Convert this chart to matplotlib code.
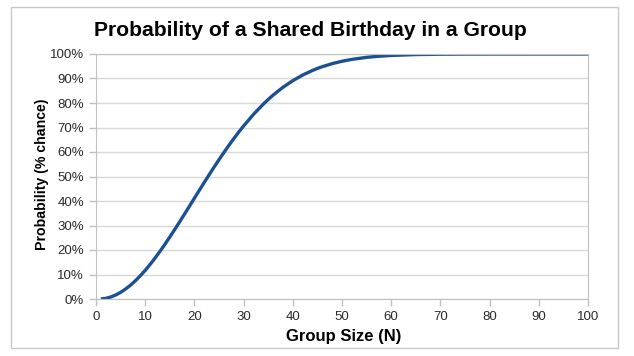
import matplotlib.pyplot as plt
from matplotlib.patches import Rectangle
from matplotlib.ticker import FuncFormatter

# group size N and chance of a shared birthday (%)
group_size = [1, 2, 3, 4, 5, 6, 7, 8, 9, 10, 11, 12, 13, 14, 15, 16, 17, 18, 19, 20,
              21, 22, 23, 24, 25, 26, 27, 28, 29, 30, 32, 34, 35, 36, 38, 40, 42, 44,
              45, 46, 48, 50, 52, 55, 57, 60, 65, 70, 75, 80, 90, 100]
probability = [0.0, 0.27, 0.82, 1.64, 2.71, 4.05, 5.62, 7.43, 9.46, 11.69, 14.11, 16.70,
               19.44, 22.31, 25.29, 28.36, 31.50, 34.69, 37.91, 41.14, 44.37, 47.57,
               50.73, 53.83, 56.87, 59.82, 62.69, 65.45, 68.10, 70.63, 75.33, 79.53,
               81.44, 83.22, 86.41, 89.12, 91.40, 93.29, 94.10, 94.83, 96.06, 97.04,
               97.80, 98.63, 99.01, 99.41, 99.77, 99.92, 99.97, 99.99, 100.0, 100.0]

x_ticks = [0, 10, 20, 30, 40, 50, 60, 70, 80, 90, 100]
y_ticks = [0, 10, 20, 30, 40, 50, 60, 70, 80, 90, 100]

plt.rcParams['font.family'] = ['Liberation Sans', 'DejaVu Sans']

fig = plt.figure(figsize=(6.34, 3.56), dpi=100)
fig.patches.append(Rectangle((11 / 634, 1 - 348 / 356), 607 / 634, 341 / 356,
                             transform=fig.transFigure, fill=False,
                             edgecolor='#c8c8c8', linewidth=1))

ax = fig.add_axes([96 / 634, 1 - 299 / 356, 492 / 634, 245 / 356])
ax.plot(group_size, probability, color='#1c5191', linewidth=2.4, solid_capstyle='butt')

ax.set_xlim(0, 100)
ax.set_ylim(0, 100)
ax.set_xticks(x_ticks)
ax.set_yticks(y_ticks)
ax.yaxis.set_major_formatter(FuncFormatter(lambda v, p: f'{v:.0f}%'))
ax.grid(axis='y', color='#d9d9d9', linewidth=1)
ax.set_axisbelow(True)
for s in ax.spines.values():
    s.set_color('#c0c0c0')
ax.tick_params(axis='both', colors='#c0c0c0', labelcolor='#2a2a2a', labelsize=9.5,
               length=5, width=1)

fig.text(0.49, 1 - 31 / 356, 'Probability of a Shared Birthday in a Group',
         ha='center', va='center', fontsize=15.2, fontweight='bold')
fig.text(344 / 634, 1 - 336 / 356, 'Group Size (N)',
         ha='center', va='center', fontsize=12, fontweight='bold')
fig.text(42 / 634, 1 - 174 / 356, 'Probability (% chance)', rotation=90,
         ha='center', va='center', fontsize=10.2, fontweight='bold')

fig.savefig('out.png', dpi=100, facecolor='white')
